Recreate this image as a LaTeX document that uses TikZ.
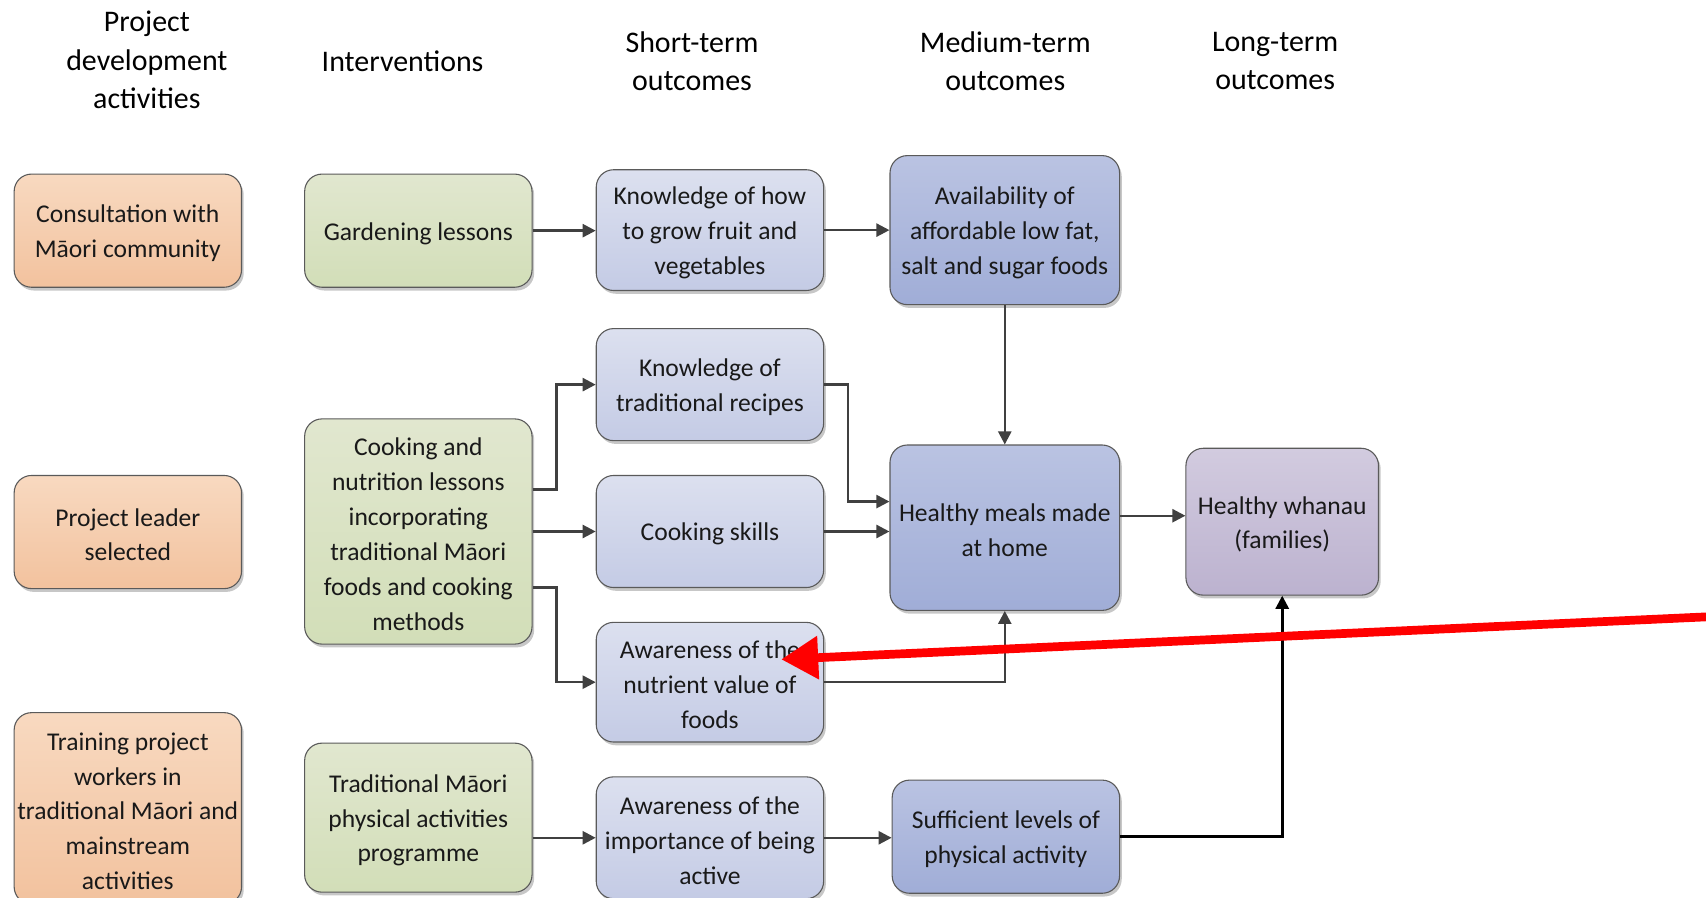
\documentclass[tikz,border=0pt]{standalone}
\usepackage{fontspec}
\setmainfont{Carlito}
\usetikzlibrary{arrows.meta,shadows,calc}

\definecolor{edge}{HTML}{5A5A5A}
\definecolor{wire}{HTML}{404040}
\definecolor{orangeT}{HTML}{F8D9C0}
\definecolor{orangeB}{HTML}{F2C29E}
\definecolor{greenT}{HTML}{E1E7CF}
\definecolor{greenB}{HTML}{D2DEB8}
\definecolor{paleT}{HTML}{DCE0EF}
\definecolor{paleB}{HTML}{C4CBE5}
\definecolor{midT}{HTML}{BAC3E2}
\definecolor{midB}{HTML}{A0ADD7}
\definecolor{lilacT}{HTML}{D2CBDF}
\definecolor{lilacB}{HTML}{BCB2CF}
\definecolor{alertred}{HTML}{FF0000}

\tikzset{
  box/.style={draw=edge, line width=1pt, rounded corners=16pt,
    minimum width=209pt, inner sep=0pt,
    drop shadow={shadow xshift=2pt, shadow yshift=-3pt, opacity=0.22, fill=black}},
  % box label, set slightly below the geometric centre
  boxtext/.style={align=center, inner sep=0pt, yshift=-2.5pt,
    font=\fontsize{23.5}{32}\selectfont, text=black!90},
  txt/.style={label={[boxtext]center:{#1}}},
  prep/.style={box, top color=orangeT, bottom color=orangeB},
  interv/.style={box, top color=greenT, bottom color=greenB},
  shortout/.style={box, top color=paleT, bottom color=paleB},
  medout/.style={box, minimum width=211pt, top color=midT, bottom color=midB},
  longout/.style={box, minimum width=177pt, top color=lilacT, bottom color=lilacB},
  head/.style={align=center, inner sep=0pt, font=\fontsize{27.5}{35}\selectfont, text=black},
  conn/.style={draw=wire, line width=2.2pt, -{Triangle[length=12pt,width=12pt]}},
  connblack/.style={draw=black, line width=2.4pt, -{Triangle[length=12pt,width=12pt]}},
  redarrow/.style={draw=alertred, line width=8pt, -{Triangle[length=34pt,width=38pt]}}
}

\begin{document}
\begin{tikzpicture}[x=1pt,y=-1pt]
\useasboundingbox (0,0) rectangle (1568,825);
\clip (0,0) rectangle (1568,825);
\fill[white] (0,0) rectangle (1568,825);

% column headings
\node[head] (h1) at (135,55) {Project\\development\\activities};
\node[head] (h2) at (370,56) {Interventions};
\node[head] (h3) at (636,56) {Short-term\\outcomes};
\node[head] (h4) at (924,56) {Medium-term\\outcomes};
\node[head] (h5) at (1172,56) {Long-term\\outcomes};

% project development activities
\node[prep, minimum height=104pt, txt={Consultation with\\Māori community}] (c1) at (117.5,212) {};
\node[prep, minimum height=104pt, txt={Project leader\\selected}] (c2) at (117.5,489) {};
\node[prep, minimum height=176pt, txt={Training project\\workers in\\traditional Māori and\\mainstream\\activities}] (c3) at (117.5,743) {};

% interventions
\node[interv, minimum height=104pt, txt={Gardening lessons}] (g1) at (384.5,212) {};
\node[interv, minimum height=207pt, txt={Cooking and\\nutrition lessons\\incorporating\\traditional Māori\\foods and cooking\\methods}] (g2) at (384.5,488.5) {};
\node[interv, minimum height=137pt, txt={Traditional Māori\\physical activities\\programme}] (g3) at (384.5,751.5) {};

% short-term outcomes
\node[shortout, minimum height=111pt, txt={Knowledge of how\\to grow fruit and\\vegetables}] (b1) at (652.5,211.5) {};
\node[shortout, minimum height=103pt, txt={Knowledge of\\traditional recipes}] (b2) at (652.5,353.5) {};
\node[shortout, minimum height=103pt, txt={Cooking skills}] (b3) at (652.5,488.5) {};
\node[shortout, minimum height=110pt, txt={Awareness of the\\nutrient value of\\foods}] (b4) at (652.5,627) {};
\node[shortout, minimum height=112pt, txt={Awareness of the\\importance of being\\active}] (b5) at (652.5,770) {};

% medium-term outcomes
\node[medout, minimum height=137pt, txt={Availability of\\affordable low fat,\\salt and sugar foods}] (m1) at (923.5,211.5) {};
\node[medout, minimum height=152pt, txt={Healthy meals made\\at home}] (m2) at (923.5,485) {};
\node[medout, minimum height=104pt, minimum width=209pt, txt={Sufficient levels of\\physical activity}] (m3) at (924.5,769) {};

% long-term outcome
\node[longout, minimum height=135pt, txt={Healthy whanau\\(families)}] (lt) at (1178.5,479.5) {};

% connector end points off the node centres
\coordinate (g2up) at ($(g2.east)+(0,-38.5)$);
\coordinate (g2dn) at ($(g2.east)+(0,51.5)$);
\coordinate (m2in) at ($(m2.west)+(0,-24)$);
\coordinate (m2out) at ($(m2.east)+(0,-11)$);

% connectors
\draw[conn] (g1.east) -- (g1.east -| b1.west);
\draw[conn] (b1.east) -- (b1.east -| m1.west);
\draw[conn] (m1.south) -- (m2.north);

\draw[conn] (g2up) -- ++(22,0) |- (b2.west);
\draw[conn] (g2.east) -- (g2.east -| b3.west);
\draw[conn] (g2dn) -- ++(22,0) |- (b4.west);

\draw[conn] (b2.east) -- ++(22,0) |- (m2in);
\draw[conn] (b3.east) -- (b3.east -| m2.west);
\draw[conn] (b4.east) -| (m2.south);

\draw[conn] (m2out) -- (m2out -| lt.west);

\draw[conn] (g3.east |- b5.west) -- (b5.west);
\draw[conn] (b5.east) -- (b5.east -| m3.west);
\draw[connblack] (m3.east) -| (lt.south);

% red pointer
\coordinate (redtail) at (1600,565.5);
\coordinate (redtip) at (718,606);
\draw[redarrow] (redtail) -- (redtip);
\end{tikzpicture}
\end{document}
